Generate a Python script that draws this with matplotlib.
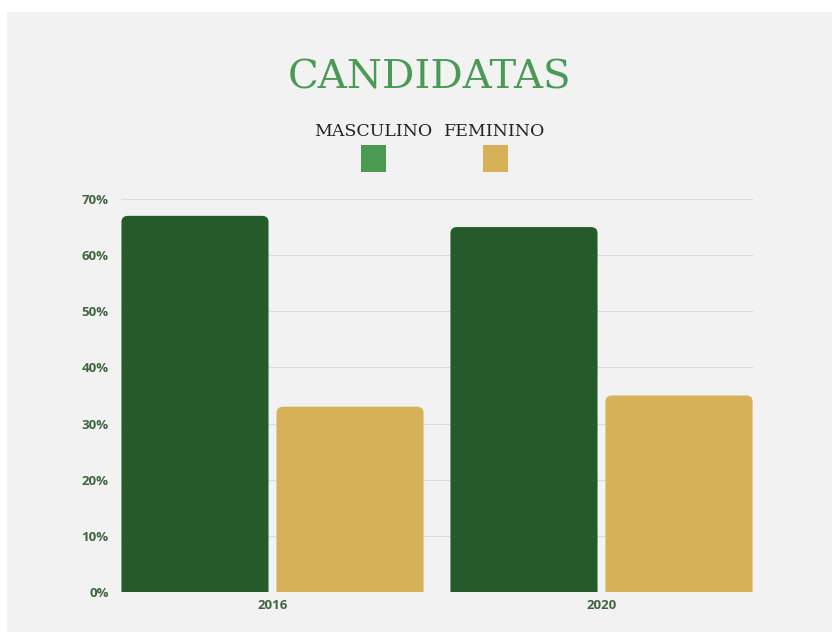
import matplotlib.pyplot as plt
from matplotlib.patches import PathPatch, Rectangle
from matplotlib.path import Path
from matplotlib.ticker import PercentFormatter

# share of candidates by sex
years = ["2016", "2020"]
masculino = [67, 65]
feminino = [33, 35]
series_names = ["MASCULINO", "FEMININO"]

green_dark = "#255a2a"
green_legend = "#4a9a52"
gold = "#d6b158"
tick_color = "#416441"


def top_rounded(x0, y0, w, h, rx, ry):
    # bar outline with square bottom and rounded top corners
    x1, y1 = x0 + w, y0 + h
    verts = [(x0, y0), (x1, y0), (x1, y1 - ry), (x1, y1), (x1 - rx, y1),
             (x0 + rx, y1), (x0, y1), (x0, y1 - ry), (x0, y0)]
    codes = [Path.MOVETO, Path.LINETO, Path.LINETO, Path.CURVE3, Path.CURVE3,
             Path.LINETO, Path.CURVE3, Path.CURVE3, Path.CLOSEPOLY]
    return Path(verts, codes)


fig = plt.figure(figsize=(8.32, 6.32), dpi=100)
fig.patch.set_facecolor("white")

# paper-like background panel
fig.add_artist(Rectangle((7 / 832, 0), 1, 620 / 632, transform=fig.transFigure,
                         facecolor="#f2f2f2", edgecolor="none", zorder=-10))

ax = fig.add_axes([121 / 832, 40 / 632, 632 / 832, 393 / 632])
ax.set_facecolor("none")

x = range(len(years))
width = 0.447
offset = 0.2356
bars_m = ax.bar([i - offset for i in x], masculino, width, color=green_dark)
bars_f = ax.bar([i + offset for i in x], feminino, width, color=gold)

ax.set_xlim(-0.4605, 1.4605)
ax.set_ylim(0, 70)

# swap the plain bars for ones with rounded top corners
for bars in (bars_m, bars_f):
    for b in bars:
        c = b.get_facecolor()
        p = top_rounded(b.get_x(), b.get_y(), b.get_width(), b.get_height(),
                        0.02, 1.1)
        b.remove()
        ax.add_patch(PathPatch(p, facecolor=c, edgecolor="none", zorder=3))

ax.set_yticks(range(0, 71, 10))
ax.yaxis.set_major_formatter(PercentFormatter(decimals=0))
ax.set_xticks(list(x))
ax.set_xticklabels(years)
ax.tick_params(axis="both", length=0, colors=tick_color, labelsize=9.5)
ax.tick_params(axis="y", pad=9)
ax.tick_params(axis="x", pad=5)
for lab in ax.get_xticklabels() + ax.get_yticklabels():
    lab.set_fontweight("bold")
    lab.set_fontfamily("Open Sans")

ax.grid(axis="y", color="#dcdcdc", linewidth=0.8, zorder=0)
ax.set_axisbelow(True)
for s in ax.spines.values():
    s.set_visible(False)

# title and legend
fig.text(0.516, 1 - 78 / 632, "CANDIDATAS", ha="center", va="center",
         fontsize=29, color="#4a9a55", family="DejaVu Serif")

leg_x = [373 / 832, 495 / 832]
leg_colors = [green_legend, gold]
for name, lx, col in zip(series_names, leg_x, leg_colors):
    fig.text(lx, 1 - 131 / 632, name, ha="center", va="center",
             fontsize=12.5, color="#222222", family="DejaVu Serif")
    fig.add_artist(Rectangle((lx - 12.5 / 832, 1 - 172 / 632), 25 / 832, 27 / 632,
                             transform=fig.transFigure, facecolor=col,
                             edgecolor="none"))

plt.savefig("out.png", dpi=100)
